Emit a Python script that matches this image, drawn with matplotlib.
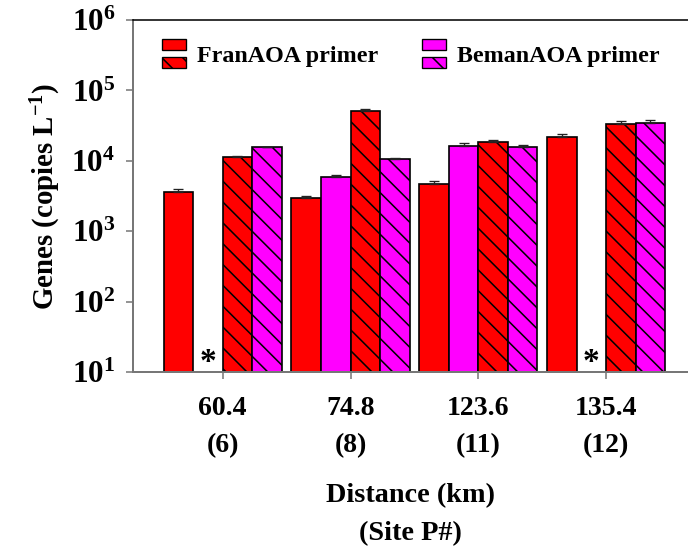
import numpy as np
import matplotlib
matplotlib.use("Agg")
import matplotlib.pyplot as plt
from matplotlib.patches import Rectangle, Patch

DPI = 125
S = 160 / DPI  # scale so sizes below stay tuned as at 160 dpi


def P(v):
    return v * S


plt.rcParams['font.family'] = ['Liberation Serif', 'DejaVu Serif']
plt.rcParams['font.weight'] = 'bold'
plt.rcParams['mathtext.fontset'] = 'custom'
plt.rcParams['mathtext.rm'] = 'Liberation Serif:bold'
plt.rcParams['mathtext.bf'] = 'Liberation Serif:bold'
plt.rcParams['mathtext.it'] = 'Liberation Serif:bold'
plt.rcParams['hatch.linewidth'] = P(0.7)
plt.rcParams['hatch.color'] = 'black'

# ---- data ----
distances = ["60.4", "74.8", "123.6", "135.4"]
sites = ["(6)", "(8)", "(11)", "(12)"]
fran_solid = [3600, 2930, 4730, 22000]
beman_solid = [np.nan, 5950, 16400, np.nan]
fran_hatch = [11400, 50500, 18500, 33600]
beman_hatch = [15700, 10500, 15600, 34400]
fran_solid_err = [370, 260, 480, 1800]
beman_solid_err = [np.nan, 400, 1700, np.nan]
fran_hatch_err = [150, 4400, 1200, 3600]
beman_hatch_err = [150, 370, 1150, 3600]

RED = '#ff0000'
MAG = '#ff00ff'
HATCH = '\\\\'  # two backslashes

fig = plt.figure(figsize=(688 / DPI, 552 / DPI), dpi=DPI)
ax = fig.add_axes([133 / 688, 1 - 372 / 552, 1 - 133 / 688, (372 - 20) / 552])

x = np.arange(len(distances))
w = 0.231
series = [
    (fran_solid, fran_solid_err, RED, None),
    (beman_solid, beman_solid_err, MAG, None),
    (fran_hatch, fran_hatch_err, RED, HATCH),
    (beman_hatch, beman_hatch_err, MAG, HATCH),
]
offsets = [-1.5, -0.5, 0.5, 1.5]
for (vals, errs, col, hatch), off in zip(series, offsets):
    vals = np.array(vals, dtype=float)
    errs = np.array(errs, dtype=float)
    xs = x + off * w
    ax.bar(xs, vals, width=w, bottom=0, color=col, edgecolor='black',
           linewidth=P(0.75), hatch=hatch, zorder=2)
    ax.errorbar(xs, vals, yerr=[np.zeros_like(errs), errs], fmt='none',
                ecolor='#222222', elinewidth=P(0.6), capsize=P(2.3),
                capthick=P(0.6), zorder=3)
    for xi, v in zip(xs, vals):
        if np.isnan(v):
            ax.text(xi, 10 ** 0.92, '*', ha='center', va='bottom', fontsize=P(15),
                    fontweight='bold', zorder=4)

ax.set_yscale('log')
ax.set_ylim(10, 1e6)
ax.set_xlim(-0.702, 3.641)

yt = [10 ** k for k in range(1, 7)]
ax.set_yticks(yt)
ax.set_yticklabels([r'$\mathbf{10^{%d}}$' % k for k in range(1, 7)], fontsize=P(14))
ax.yaxis.set_minor_locator(matplotlib.ticker.NullLocator())
ax.set_xticks(x)
ax.set_xticklabels([f"{d}\n{s}" for d, s in zip(distances, sites)], fontsize=P(12.5),
                   fontweight='bold', linespacing=1.62)

ax.tick_params(axis='both', direction='out', color='#777777', width=P(0.7), length=P(3))
ax.tick_params(axis='x', pad=P(8))
ax.tick_params(axis='y', pad=P(5))

for s in ['left', 'bottom']:
    ax.spines[s].set_color('#777777')
    ax.spines[s].set_linewidth(P(0.9))
ax.spines['top'].set_color('black')
ax.spines['top'].set_linewidth(P(0.7))
ax.spines['right'].set_visible(False)

ax.set_ylabel(r'Genes (copies L$^{\mathbf{-1}}$)', fontsize=P(13), fontweight='bold',
              labelpad=P(4))
ax.set_xlabel('Distance (km)\n(Site P#)', fontsize=P(12.7), fontweight='bold',
              linespacing=1.7, labelpad=P(11.2))


class StackHandler:
    def __init__(self, color):
        self.color = color

    def legend_artist(self, legend, orig_handle, fontsize, handlebox):
        x0, y0 = -handlebox.xdescent, -handlebox.ydescent
        wd, ht = handlebox.width, handlebox.height
        gap = ht * 0.23
        hh = (ht - gap) / 2
        tr = handlebox.get_transform()
        r1 = Rectangle((x0, y0 + hh + gap), wd, hh, facecolor=self.color,
                       edgecolor='black', linewidth=P(0.6), transform=tr)
        r2 = Rectangle((x0, y0), wd, hh, facecolor=self.color, hatch=HATCH,
                       edgecolor='black', linewidth=P(0.6), transform=tr)
        handlebox.add_artist(r1)
        handlebox.add_artist(r2)
        return r1


h1 = Patch(facecolor=RED, label='FranAOA primer')
h2 = Patch(facecolor=MAG, label='BemanAOA primer')
leg = ax.legend(handles=[h1, h2], ncol=2, frameon=False, fontsize=P(10.8),
                handler_map={h1: StackHandler(RED), h2: StackHandler(MAG)},
                handlelength=1.0, handleheight=1.45, handletextpad=0.45,
                columnspacing=1.85, loc='upper left',
                bbox_to_anchor=(0.035, 0.972), borderaxespad=0.0)

fig.savefig('out.png', dpi=DPI)
